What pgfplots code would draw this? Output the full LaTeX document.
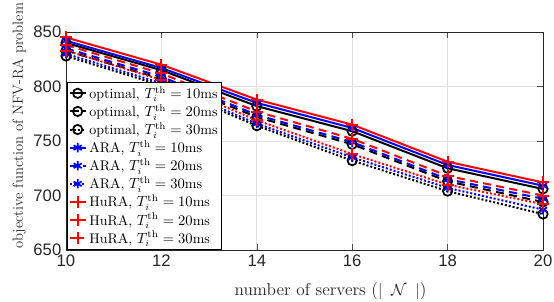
\documentclass[border=0pt]{standalone}
\usepackage{fontspec}
\usepackage{pgfplots}
\pgfplotsset{compat=1.18}
\newfontfamily\ticks{Liberation Sans}
\begin{document}
\begin{tikzpicture}
\begin{axis}[
  scale only axis,
  width=357.75pt, height=163.5pt,
  xmin=10, xmax=20, ymin=650, ymax=850,
  xtick={10,12,...,20}, ytick={650,700,...,850},
  /pgf/number format/assume math mode=true,
  tick label style={font=\ticks\fontsize{12.5}{14}\selectfont, color=black!85},
  grid=major,
  grid style={gray!25, line width=0.6pt},
  axis line style={line width=0.6pt, black!85},
  tick style={black!70},
  tick align=inside,
  xlabel={number of servers ($|\hspace{6.5pt}\mathcal{N}\hspace{6.5pt}|$)},
  ylabel={objective function of NFV-RA problem},
  label style={color=black!85},
  xlabel style={font=\fontsize{13}{15}\selectfont, at={(axis description cs:0.5545,-0.187)}, anchor=center},
  ylabel style={font=\fontsize{11}{13}\selectfont, at={(axis description cs:-0.0985,0.57)}, anchor=center},
  legend style={at={(rel axis cs:0.002,0.002)}, anchor=south west, font=\fontsize{10.5}{12}\selectfont,
    draw=black, line width=0.6pt, fill=white, inner sep=1pt, row sep=-1pt,
    cells={anchor=west}},
  legend image code/.code={
    \draw[mark repeat=2,mark phase=2] plot coordinates {(0cm,0cm) (0.21cm,0cm) (0.42cm,0cm)};},
  every axis plot/.append style={line width=1.5pt},
]
\coordinate (ll) at (rel axis cs:0,0);
% optimal
\addplot[black, solid, mark=o, mark size=3.5pt, mark options={solid, line width=1.3pt}]
  coordinates {(10,840) (12,815) (14,782) (16,759) (18,725) (20,706)};
\addlegendentry{optimal, $T_i^{\mathrm{th}}=10\mathrm{ms}$}
\addplot[black, dash pattern=on 6pt off 4pt, mark=o, mark size=3.5pt, mark options={solid, line width=1.3pt}]
  coordinates {(10,833) (12,807) (14,772) (16,747) (18,713) (20,694)};
\addlegendentry{optimal, $T_i^{\mathrm{th}}=20\mathrm{ms}$}
\addplot[black, dash pattern=on 1.5pt off 1.5pt, mark=o, mark size=3.5pt, mark options={solid, line width=1.3pt}]
  coordinates {(10,828) (12,801) (14,764) (16,732) (18,704) (20,683)};
\addlegendentry{optimal, $T_i^{\mathrm{th}}=30\mathrm{ms}$}
% ARA
\addplot[blue, solid, mark=asterisk, mark size=3.5pt, mark options={solid, line width=1.3pt}]
  coordinates {(10,842) (12,817) (14,785) (16,762) (18,728) (20,709)};
\addlegendentry{ARA, $T_i^{\mathrm{th}}=10\mathrm{ms}$}
\addplot[blue, dash pattern=on 6pt off 4pt, mark=asterisk, mark size=3.5pt, mark options={solid, line width=1.3pt}]
  coordinates {(10,835) (12,809) (14,774) (16,749) (18,715) (20,697)};
\addlegendentry{ARA, $T_i^{\mathrm{th}}=20\mathrm{ms}$}
\addplot[blue, dash pattern=on 1.5pt off 1.5pt, mark=asterisk, mark size=3.5pt, mark options={solid, line width=1.3pt}]
  coordinates {(10,830) (12,803) (14,766) (16,735) (18,707) (20,687)};
\addlegendentry{ARA, $T_i^{\mathrm{th}}=30\mathrm{ms}$}
% HuRA
\addplot[red, solid, mark=+, mark size=4.5pt, mark options={solid, line width=1.5pt}]
  coordinates {(10,845) (12,820) (14,788) (16,765) (18,731) (20,712)};
\addlegendentry{HuRA, $T_i^{\mathrm{th}}=10\mathrm{ms}$}
\addplot[red, dash pattern=on 6pt off 4pt, mark=+, mark size=4.5pt, mark options={solid, line width=1.5pt}]
  coordinates {(10,838) (12,812) (14,777) (16,752) (18,718) (20,700)};
\addlegendentry{HuRA, $T_i^{\mathrm{th}}=20\mathrm{ms}$}
\addplot[red, dash pattern=on 1.5pt off 1.5pt, mark=+, mark size=4.5pt, mark options={solid, line width=1.5pt}]
  coordinates {(10,833) (12,806) (14,769) (16,738) (18,710) (20,692)};
\addlegendentry{HuRA, $T_i^{\mathrm{th}}=30\mathrm{ms}$}
\end{axis}
\pgfresetboundingbox
\path ([shift={(-49.5pt,-38.25pt)}]ll) rectangle ([shift={(366pt,187.5pt)}]ll);
\end{tikzpicture}
\end{document}
